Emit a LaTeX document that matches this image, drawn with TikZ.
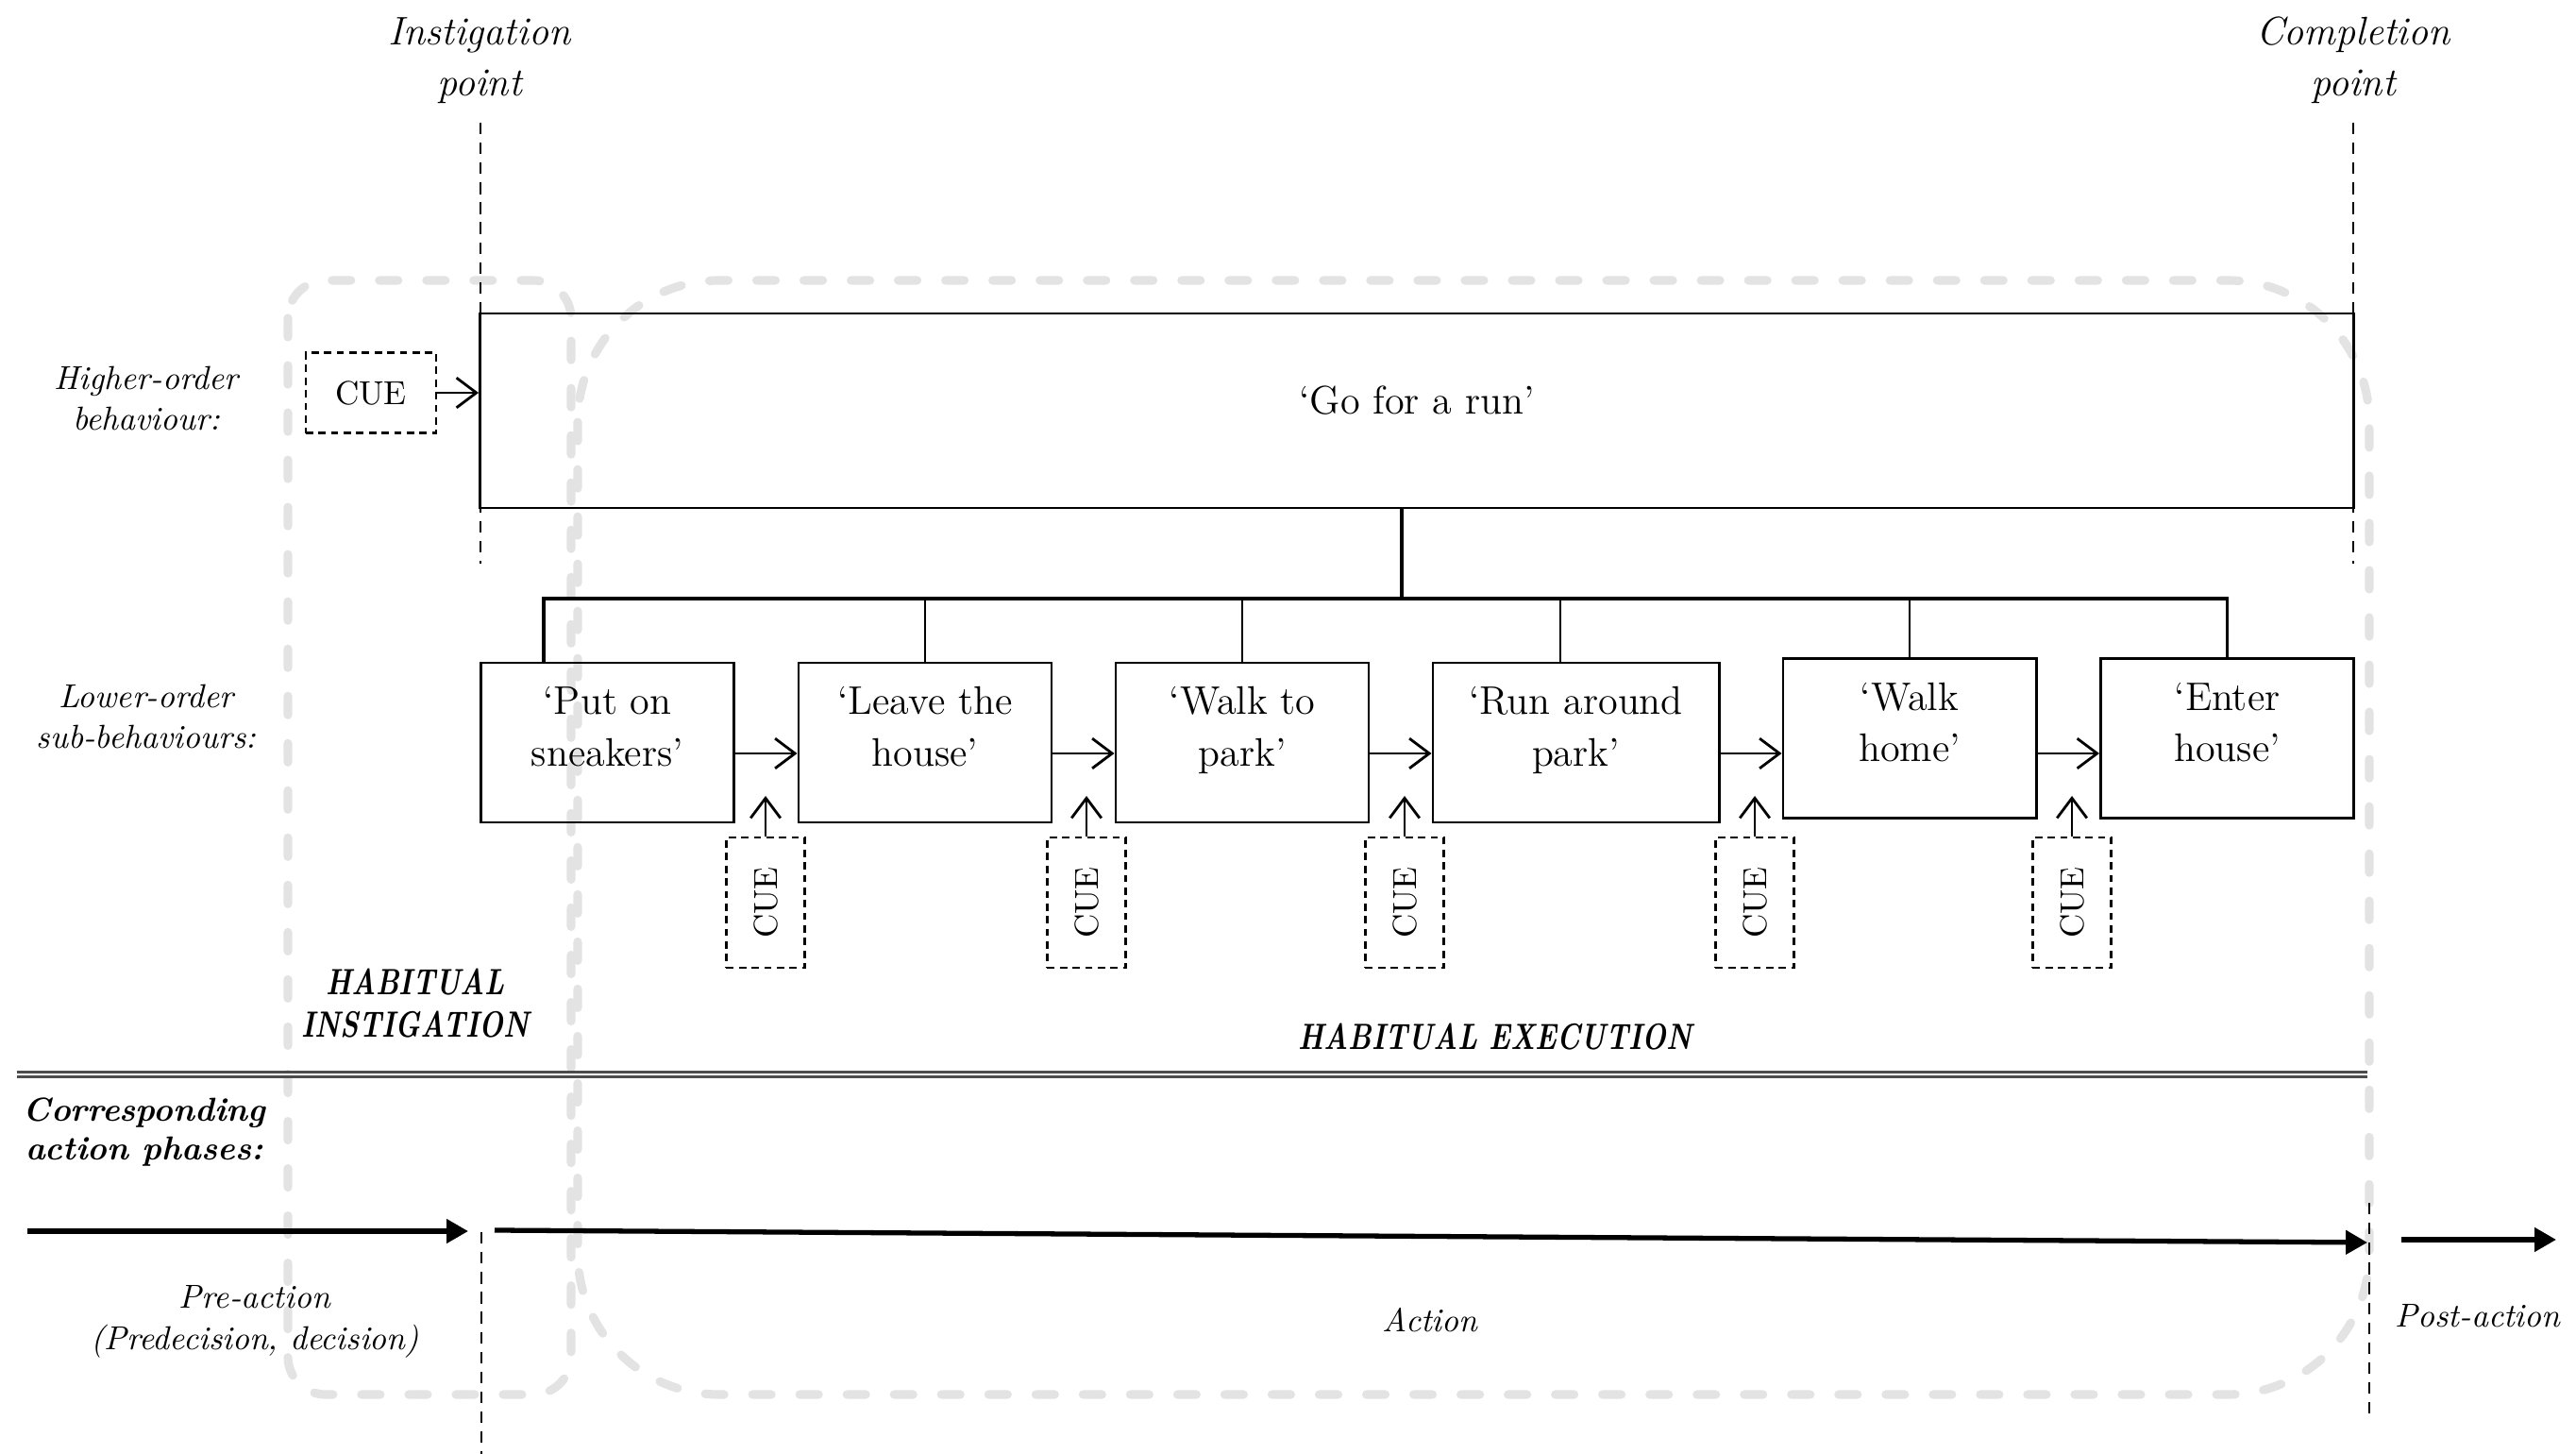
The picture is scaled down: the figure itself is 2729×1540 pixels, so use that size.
\documentclass[tikz,border=0pt]{standalone}
\usetikzlibrary{arrows.meta}
\newcommand{\cond}[1]{\scalebox{0.78}[1]{#1}}

\begin{document}
\begin{tikzpicture}[x=0.01cm, y=-0.01cm]
      \tikzstyle{box}=[draw, line width=0.8pt, inner sep=0pt, align=center, font=\fontsize{12}{15.4}\selectfont]
      \tikzstyle{sub}=[minimum width=2.68cm, minimum height=1.69cm, text height=24pt, text depth=10pt]
      \tikzstyle{cue}=[draw, line width=0.7pt, dash pattern=on 2.2pt off 1.6pt, inner sep=0pt, font=\fontsize{10}{12}\selectfont]
      \tikzstyle{vcue}=[minimum width=0.83cm, minimum height=1.38cm]
      \tikzstyle{point}=[align=center, font=\fontsize{12}{15.4}\selectfont\itshape]
      \tikzstyle{side}=[align=center, font=\fontsize{10}{12.3}\selectfont\itshape]
      \tikzstyle{phase}=[align=center, font=\fontsize{11}{12.8}\selectfont\bfseries\itshape]
      \tikzstyle{caption}=[align=center, font=\fontsize{10}{11.7}\selectfont\bfseries\itshape]
      \tikzstyle{arr}=[line width=0.8pt, -{Straight Barb[length=6pt, width=9pt]}]
      \tikzstyle{fat}=[line width=1.5pt, -{Triangle[length=6.5pt, width=7pt]}]
      \tikzstyle{vline}=[line width=0.7pt, dash pattern=on 3.5pt off 2.5pt]
      \tikzstyle{sep}=[double, draw=black!70, line width=0.8pt, double distance=0.7pt]
      \tikzstyle{ghost}=[draw=black!11, line width=2.6pt, dash pattern=on 2mm off 3mm, line cap=round]
      \useasboundingbox (0,0) rectangle (2729,1540);

      % habit regions
      \draw[ghost, rounded corners=0.4cm] (305,297) rectangle (605,1477);
      \draw[ghost, rounded corners=1.5cm] (612,297) rectangle (2510,1477);

      % labels
      \node[point] (ip) at (508,64) {Instigation\\point};
      \node[point] (cp) at (2493,64) {Completion\\point};
      \node[side] (hl) at (155,422) {Higher-order\\behaviour:};
      \node[side] (ll) at (155,759) {Lower-order\\sub-behaviours:};
      \node[phase] (hi) at (440,1063) {\cond{HABITUAL}\\\cond{INSTIGATION}};
      \node[phase] (he) at (1584,1098) {\cond{HABITUAL EXECUTION}};
      \node[caption] (ph) at (153,1199) {Corresponding\\action phases:};
      \node[side] (pre) at (270,1400) {Pre-action\\(Predecision, decision)};
      \node[side] (act) at (1515,1398) {Action};
      \node[side] (post) at (2625,1394) {Post-action};

      % behaviours
      \node[box, minimum width=19.84cm, minimum height=2.06cm, text depth=6.5pt] (go) at (1501,435) {‘Go for a run’};
      \node[cue, minimum width=1.38cm, minimum height=0.85cm] (c0) at (393,416) {CUE};
      \node[box, sub] (s1) at (643.5,786.5) {‘Put on\\sneakers’};
      \node[box, sub] (s2) at (980,786.5) {‘Leave the\\house’};
      \node[box, sub] (s3) at (1316,786.5) {‘Walk to\\park’};
      \node[box, sub, minimum width=3.03cm] (s4) at (1669.5,786.5) {‘Run around\\park’};
      \node[box, sub] (s5) at (2023,782) {‘Walk\\home’};
      \node[box, sub] (s6) at (2359.5,782) {‘Enter\\house’};
      \node[cue, vcue] (c1) at (811,956) {\rotatebox{90}{CUE}};
      \node[cue, vcue] (c2) at (1151,956) {\rotatebox{90}{CUE}};
      \node[cue, vcue] (c3) at (1488,956) {\rotatebox{90}{CUE}};
      \node[cue, vcue] (c4) at (1859,956) {\rotatebox{90}{CUE}};
      \node[cue, vcue] (c5) at (2195,956) {\rotatebox{90}{CUE}};

      \draw[arr] (c0.east) to (c0.east -| go.west);

      \coordinate (bus) at (1485,634);
      \coordinate (d1) at ([xshift=-0.675cm]s1.north);
      \coordinate (d4) at ([xshift=-0.165cm]s4.north);
      \draw[line width=1pt] (go.south -| bus) -- (bus);
      \draw[line width=1pt] (d1) |- (bus) -| (s6.north);
      \foreach \n in {s2.north, s3.north, d4, s5.north} {%
        \draw[line width=0.8pt] (\n) -- (\n |- bus);
      }

      \coordinate (ay) at (0,798);
      \foreach \src/\dst in {s1/s2, s2/s3, s3/s4, s4/s5, s5/s6} {%
        \draw[arr] (\src.east |- ay) to (\dst.west |- ay);
      }
      \coordinate (tip) at (0,843);
      \foreach \i in {1,...,5} {%
        \draw[arr] (c\i.north) to (c\i.north |- tip);
      }

      % phase markers
      \coordinate (it) at (509,130);
      \coordinate (ib) at (509,597);
      \coordinate (ct) at (2493,130);
      \coordinate (cb) at (2493,597);
      \coordinate (pt) at (510,1305);
      \coordinate (pb) at (510,1540);
      \coordinate (qt) at (2510,1274);
      \coordinate (qb) at (2510,1505);
      \foreach \src/\dst in {it/ib, ct/cb, pt/pb, qt/qb} {%
        \draw[vline] (\src) -- (\dst);
      }

      \coordinate (sl) at (18,1138);
      \coordinate (sr) at (2508,1138);
      \draw[sep] (sl) -- (sr);

      \coordinate (p0) at (29,1304);
      \coordinate (p1) at (496,1304);
      \coordinate (p2) at (524,1303);
      \coordinate (p3) at (2508,1316);
      \coordinate (p4) at (2544,1313);
      \coordinate (p5) at (2708,1313);
      \foreach \src/\dst in {p0/p1, p2/p3, p4/p5} {%
        \draw[fat] (\src) to (\dst);
      }
\end{tikzpicture}
\end{document}
